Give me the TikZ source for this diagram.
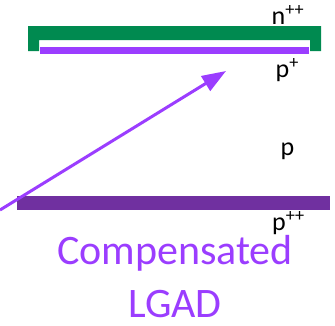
\documentclass[tikz,border=0pt]{standalone}
\usepackage{fontspec}
\setmainfont{Carlito}
\usetikzlibrary{arrows.meta}
\definecolor{ngreen}{HTML}{008A50}
\definecolor{violetA}{HTML}{9B3DFF}
\definecolor{violetD}{HTML}{7030A0}
\tikzset{
  lbl/.style={anchor=base west, inner sep=0pt, font=\fontsize{26}{30}\selectfont, text=black},
  title/.style={anchor=base, inner sep=0pt, font=\fontsize{42}{50}\selectfont, text=violetA},
  beam/.style={draw=violetA, line width=3pt, -{Triangle[length=24pt,width=17pt]}}
}
\begin{document}
\begin{tikzpicture}[x=1pt,y=-1pt]
\useasboundingbox (0,0) rectangle (335,325);
% n++ contact (green U)
\fill[ngreen] (28,51) -- (28,26) -- (321,26) -- (321,51) -- (310,51) -- (310,40) -- (39,40) -- (39,51) -- cycle;
% p+ gain layer
\fill[violetA] (40,46.5) rectangle (309,54.3);
% p++ back contact
\fill[violetD] (17,196) rectangle (330,210);
% labels
\node[lbl] (npp) at (271.5,24.3) {n\textsuperscript{++}};
\node[lbl] (pp) at (275.5,77.5) {p\textsuperscript{+}};
\node[lbl] (p) at (280.5,155) {p};
\node[lbl] (ppp) at (272,230.5) {p\textsuperscript{++}};
\node[title] (t1) at (175,264) {Compensated};
\node[title] (t2) at (175,317) {LGAD};
% particle track
\coordinate (s) at (0,210);
\coordinate (e) at (226,71);
\draw[beam] (s) -- (e);
\end{tikzpicture}
\end{document}
